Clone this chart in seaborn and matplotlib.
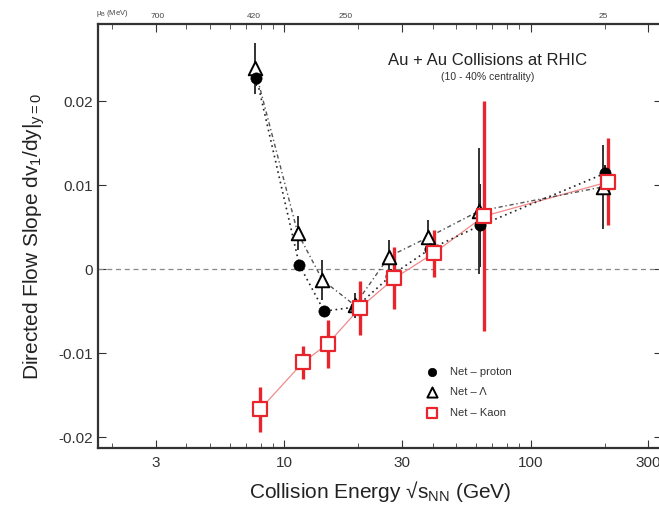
import numpy as np
import pandas as pd
import matplotlib
matplotlib.use("Agg")
import matplotlib.pyplot as plt
import seaborn as sns
from matplotlib.ticker import LogLocator, FixedLocator, FixedFormatter, NullFormatter

# Beam energies (GeV) of the RHIC beam energy scan
energy = [7.7, 11.5, 14.5, 19.6, 27, 39, 62.4, 200]

# dv1/dy slopes at mid-rapidity and their uncertainties
proton_v = [0.0228, 0.0005, -0.0050, -0.0045, -0.0008, 0.0024, 0.0052, 0.0114]
proton_err = [0.0010, 0.0006, 0.0006, 0.0006, 0.0008, 0.0010, 0.0050, 0.0010]

lambda_v = [0.0239, 0.0043, -0.0013, -0.0043, 0.0015, 0.0038, 0.0069, 0.0098]
lambda_err = [0.0030, 0.0020, 0.0024, 0.0015, 0.0020, 0.0020, 0.0075, 0.0050]

kaon_v = [-0.0167, -0.0111, -0.0089, -0.0046, -0.0011, 0.0019, 0.0063, 0.0104]
kaon_err = [0.0027, 0.0020, 0.0029, 0.0032, 0.0037, 0.0028, 0.0137, 0.0052]

# Baryon chemical potential scale on the top axis
mub_energy = [3.06, 7.5, 17.7, 197]
mub_labels = ["700", "420", "250", "25"]

x_ticks = [3, 10, 30, 100, 300]
y_ticks = [-0.02, -0.01, 0, 0.01, 0.02]
y_ticklabels = ["-0.02", "-0.01", "0", "0.01", "0.02"]

sns.set_style("ticks")
plt.rcParams["font.family"] = ["Liberation Sans", "DejaVu Sans"]
plt.rcParams["mathtext.fontset"] = "custom"
plt.rcParams["mathtext.rm"] = "Liberation Sans"
plt.rcParams["mathtext.it"] = "Liberation Sans"

RED = "#e8242c"
P_NAME = "Net \u2013 proton"
L_NAME = "Net \u2013 \u039b"
K_NAME = "Net \u2013 Kaon"

fig = plt.figure(figsize=(6.59, 5.05), dpi=100)
ax = fig.add_axes([0.1487, 0.1129, 0.856, 0.8396])

# small horizontal display shifts so overlapping species stay readable
shift = {P_NAME: 1.0, L_NAME: 0.985, K_NAME: 1.035}

df = pd.concat([
    pd.DataFrame({"E": energy, "v": proton_v, "err": proton_err, "species": P_NAME}),
    pd.DataFrame({"E": energy, "v": lambda_v, "err": lambda_err, "species": L_NAME}),
    pd.DataFrame({"E": energy, "v": kaon_v, "err": kaon_err, "species": K_NAME}),
], ignore_index=True)
df["Eplot"] = df["E"] * df["species"].map(shift)

ax.axhline(0, color="#888888", lw=0.9, ls=(0, (4, 3)), zorder=1)

# connecting lines
sub = df[df.species == K_NAME]
sns.lineplot(data=sub, x="Eplot", y="v", ax=ax, color="#f08a8a", lw=0.9,
             sort=True, legend=False, zorder=2)
sub = df[df.species == L_NAME]
sns.lineplot(data=sub, x="Eplot", y="v", ax=ax, color="#555555", lw=1.0,
             ls=(0, (3, 2, 1, 2)), sort=True, legend=False, zorder=2)
sub = df[df.species == P_NAME]
sns.lineplot(data=sub, x="Eplot", y="v", ax=ax, color="#222222", lw=1.2,
             ls=(0, (1, 2.2)), sort=True, legend=False, zorder=2)

# error bars
for name, col, lw in [(P_NAME, "#222222", 1.4),
                      (L_NAME, "#333333", 1.4),
                      (K_NAME, RED, 2.4)]:
    sub = df[df.species == name]
    ax.errorbar(sub["Eplot"], sub["v"], yerr=sub["err"], fmt="none",
                ecolor=col, elinewidth=lw, capsize=0, zorder=3)

# markers
sns.scatterplot(data=df[df.species == P_NAME], x="Eplot", y="v", ax=ax,
                marker="o", s=65, color="black", edgecolor="black", linewidth=0.5,
                zorder=5, label=P_NAME)
sns.scatterplot(data=df[df.species == L_NAME], x="Eplot", y="v", ax=ax,
                marker="^", s=95, facecolor="white", edgecolor="black", linewidth=1.4,
                zorder=4, label=L_NAME)
sns.scatterplot(data=df[df.species == K_NAME], x="Eplot", y="v", ax=ax,
                marker="s", s=95, facecolor="white", edgecolor=RED, linewidth=1.6,
                zorder=6, label=K_NAME)

ax.set_xscale("log")
ax.set_xlim(1.75, 342)
ax.set_ylim(-0.0213, 0.0292)

ax.xaxis.set_major_locator(FixedLocator(x_ticks))
ax.xaxis.set_major_formatter(FixedFormatter([str(t) for t in x_ticks]))
ax.xaxis.set_minor_locator(LogLocator(base=10, subs=np.arange(2, 10)))
ax.xaxis.set_minor_formatter(NullFormatter())
ax.yaxis.set_major_locator(FixedLocator(y_ticks))
ax.yaxis.set_major_formatter(FixedFormatter(y_ticklabels))

ax.tick_params(axis="both", which="major", direction="in", length=6, width=0.8,
               top=True, right=True, labelsize=11, colors="#333333",
               labelcolor="#333333")
ax.tick_params(axis="x", which="minor", direction="in", length=3.5, width=0.7,
               top=True, bottom=True, colors="#555555")
ax.tick_params(axis="x", which="major", pad=6)
for sp in ax.spines.values():
    sp.set_linewidth(1.6)
    sp.set_color("#333333")

# top axis: baryon chemical potential
sec = ax.secondary_xaxis("top")
sec.xaxis.set_major_locator(FixedLocator(mub_energy))
sec.xaxis.set_major_formatter(FixedFormatter(mub_labels))
sec.xaxis.set_minor_locator(FixedLocator([]))
sec.tick_params(axis="x", which="major", length=0, pad=3, labelsize=6,
                labelcolor="#444444")
sec.spines["top"].set_visible(False)
ax.text(0.025, 1.012, "$\\mu_B$ (MeV)", transform=ax.transAxes, fontsize=5.5,
        color="#444444", ha="center", va="bottom")

ax.set_xlabel("Collision Energy \u221as$_{\\rm NN}$ (GeV)", fontsize=15,
              color="#222222", labelpad=6)
ax.set_ylabel("Directed Flow Slope dv$_1$/dy|$_{y=0}$", fontsize=15,
              color="#222222", labelpad=8)

ax.text(0.69, 0.915, "Au + Au Collisions at RHIC", transform=ax.transAxes,
        fontsize=12, ha="center", va="center", color="#222222")
ax.text(0.69, 0.875, "(10 - 40% centrality)", transform=ax.transAxes,
        fontsize=7.5, ha="center", va="center", color="#333333")

leg = ax.legend(loc="upper left", bbox_to_anchor=(0.565, 0.202), frameon=False,
                fontsize=8, handletextpad=0.6, labelspacing=0.95,
                markerscale=0.75, borderaxespad=0)
for t in leg.get_texts():
    t.set_color("#333333")

fig.savefig("out.png", dpi=100)
